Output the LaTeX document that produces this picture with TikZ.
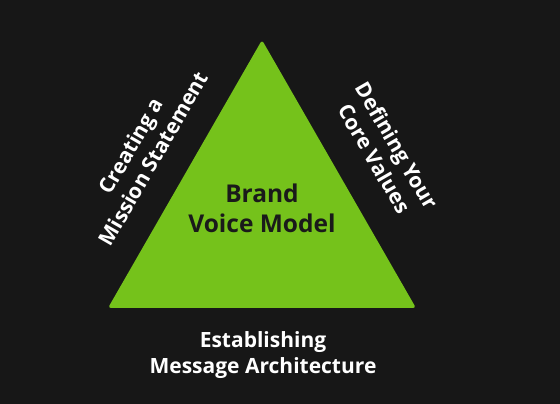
\documentclass[tikz,border=0pt]{standalone}
\usepackage{fontspec}
\setmainfont{Open Sans}
\usetikzlibrary{positioning, calc}

\begin{document}
\begin{tikzpicture}[x=1pt, y=1pt]

\definecolor{colorbg}{HTML}{171717}
\definecolor{colortri}{HTML}{75C21B}
\definecolor{mytext}{HTML}{1A1A1A}

\tikzset{
    tribase/.style={
        fill=colortri,
        rounded corners=3pt
    },
    sidelabel/.style={
        text=white,
        font=\fontsize{21}{26}\selectfont\bfseries,
        align=center,
        inner sep=0pt
    },
    centerlabel/.style={
        text=mytext,
        font=\fontsize{24.5}{30}\selectfont\bfseries,
        align=center,
        inner sep=0pt
    }
}

% Background
\fill[colorbg] (0,0) rectangle (560,404);
\useasboundingbox (0,0) rectangle (560,404);

% Triangle corners
\coordinate (apex) at (262,364);
\coordinate (left) at (108,96);
\coordinate (right) at (416,96);

\fill[tribase] (apex) -- (right) -- (left) -- cycle;

% Labels
\node[centerlabel] (model) at (262,196) {Brand\\Voice Model};
\node[sidelabel, rotate=60] (mission) at (142,252) {Creating a\\Mission Statement};
\node[sidelabel, rotate=-60] (values) at (386,252) {Defining Your\\Core Values};
\node[sidelabel] (message) at (263,49) {Establishing\\Message Architecture};

\end{tikzpicture}
\end{document}
